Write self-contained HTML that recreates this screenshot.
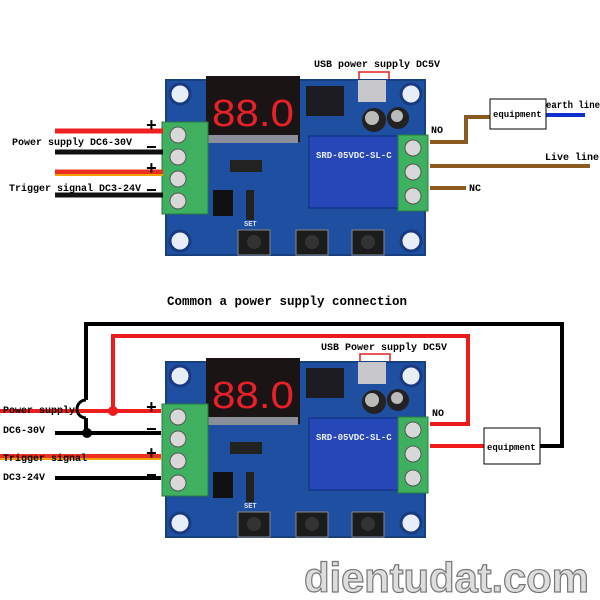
<!DOCTYPE html>
<html><head><style>
html,body{margin:0;padding:0;background:#fff;}
svg{display:block}
text{font-family:"Liberation Mono",monospace;font-weight:bold;}
</style></head><body>
<svg width="600" height="600" viewBox="0 0 600 600" xmlns="http://www.w3.org/2000/svg">
<defs>
<g id="board">
  <rect x="0" y="0" width="259" height="175" fill="#1f4fa0"/>
  <rect x="0" y="0" width="259" height="175" fill="none" stroke="#16407f" stroke-width="2"/>
  <g fill="#e8eef8" stroke="#1a3a80" stroke-width="3">
    <circle cx="14" cy="14" r="10"/><circle cx="245" cy="14" r="10"/>
    <circle cx="14" cy="161" r="10"/><circle cx="245" cy="161" r="10"/>
  </g>
  <rect x="40" y="-4" width="94" height="66" fill="#1a1414"/>
  <text x="46" y="46" font-size="38" fill="#e8202a" textLength="82" lengthAdjust="spacingAndGlyphs" style="font-family:'Liberation Sans',sans-serif;font-weight:normal">88.0</text>
  <rect x="42" y="55" width="90" height="8" fill="#8a8f9a"/>
  <rect x="140" y="6" width="38" height="30" fill="#1c1c22"/>
  <rect x="192" y="0" width="28" height="22" fill="#c8c8cc"/>
  <circle cx="208" cy="40" r="12" fill="#222"/><circle cx="232" cy="38" r="11" fill="#222"/>
  <circle cx="206" cy="38" r="7" fill="#bbb"/><circle cx="231" cy="36" r="6" fill="#bbb"/>
  <rect x="143" y="56" width="90" height="72" fill="#2547b8" stroke="#0f2d7a"/>
  <text x="150" y="78" font-size="9" fill="#e8eef8" font-weight="normal">SRD-05VDC-SL-C</text>
  <rect x="64" y="80" width="32" height="12" fill="#222"/>
  <rect x="80" y="110" width="8" height="30" fill="#222"/>
  <rect x="47" y="110" width="20" height="26" fill="#111"/>
  <rect x="72" y="150" width="32" height="25" fill="#1c1c1c" stroke="#888"/>
  <rect x="130" y="150" width="32" height="25" fill="#1c1c1c" stroke="#888"/>
  <rect x="186" y="150" width="32" height="25" fill="#1c1c1c" stroke="#888"/>
  <circle cx="88" cy="162" r="7" fill="#333"/><circle cx="146" cy="162" r="7" fill="#333"/><circle cx="202" cy="162" r="7" fill="#333"/>
  <text x="78" y="146" font-size="7" fill="#dde" font-weight="normal">SET</text>
  <rect x="-4" y="42" width="46" height="92" fill="#3fb060" stroke="#2a7a40"/>
  <g fill="#d8d8d8" stroke="#555"><circle cx="12" cy="55" r="8"/><circle cx="12" cy="77" r="8"/><circle cx="12" cy="99" r="8"/><circle cx="12" cy="121" r="8"/></g>
  <rect x="232" y="55" width="30" height="76" fill="#3fb060" stroke="#2a7a40"/>
  <g fill="#d8d8d8" stroke="#555"><circle cx="247" cy="68" r="8"/><circle cx="247" cy="92" r="8"/><circle cx="247" cy="116" r="8"/></g>
</g>
</defs>

<!-- TOP -->
<text x="314" y="67" font-size="10" fill="#000">USB power supply DC5V</text>
<rect x="359" y="72" width="30" height="10" fill="none" stroke="#e02020" stroke-width="1.5"/>
<use href="#board" x="166" y="80"/>
<g stroke-width="5">
<line x1="55" y1="131" x2="163" y2="131" stroke="#ee2020"/>
<line x1="55" y1="152" x2="163" y2="152" stroke="#111"/>
<line x1="55" y1="172" x2="163" y2="172" stroke="#ee3020"/>
<line x1="55" y1="175" x2="163" y2="175" stroke="#f0a000" stroke-width="2"/>
<line x1="55" y1="195" x2="163" y2="195" stroke="#111"/>
</g>
<g font-size="18" font-weight="normal" fill="#000" style="font-family:'Liberation Sans',sans-serif">
<text x="146" y="131">+</text><text x="146" y="153">−</text><text x="146" y="174">+</text><text x="146" y="196">−</text>
</g>
<text x="12" y="145" font-size="10">Power supply DC6-30V</text>
<text x="9" y="191" font-size="10">Trigger signal DC3-24V</text>
<g stroke="#8b5a1e" stroke-width="4" fill="none">
<polyline points="430,142 466,142 466,117 490,117"/>
<line x1="430" y1="166" x2="590" y2="166"/>
<line x1="430" y1="188" x2="466" y2="188"/>
</g>
<line x1="546" y1="115" x2="585" y2="115" stroke="#1030d0" stroke-width="4"/>
<rect x="490" y="99" width="56" height="30" fill="#fff" stroke="#000"/>
<text x="493" y="117" font-size="9">equipment</text>
<text x="546" y="108" font-size="10" textLength="54" lengthAdjust="spacingAndGlyphs">earth line</text>
<text x="545" y="160" font-size="10">Live line</text>
<text x="431" y="133" font-size="10">NO</text>
<text x="469" y="191" font-size="10">NC</text>

<text x="167" y="305" font-size="12.5" font-weight="normal" fill="#000">Common a power supply connection</text>

<!-- BOTTOM -->
<polyline points="86,400 86,324 562,324 562,446 540,446" fill="none" stroke="#000" stroke-width="4"/>
<polyline points="113,411 113,336 468,336 468,424 430,424" fill="none" stroke="#ee1c1c" stroke-width="4"/>
<line x1="430" y1="446" x2="484" y2="446" stroke="#ee1c1c" stroke-width="4"/>
<line x1="0" y1="411" x2="161" y2="411" stroke="#ee1c1c" stroke-width="4"/>
<path d="M86,400 A8,8 0 0 0 86,418" fill="none" stroke="#000" stroke-width="3"/>
<line x1="86" y1="418" x2="86" y2="433" stroke="#000" stroke-width="4"/>
<line x1="55" y1="433" x2="161" y2="433" stroke="#000" stroke-width="4"/>
<circle cx="113" cy="411" r="5" fill="#ee1c1c"/>
<circle cx="87" cy="433" r="5" fill="#000"/>
<line x1="0" y1="456" x2="161" y2="456" stroke="#ee3020" stroke-width="4"/>
<line x1="0" y1="459" x2="161" y2="459" stroke="#f0a000" stroke-width="2"/>
<line x1="55" y1="478" x2="161" y2="478" stroke="#000" stroke-width="4"/>
<text x="321" y="350" font-size="10">USB Power supply DC5V</text>
<rect x="360" y="354" width="30" height="10" fill="none" stroke="#e02020" stroke-width="1.5"/>
<use href="#board" x="166" y="362"/>
<g font-size="18" font-weight="normal" fill="#000" style="font-family:'Liberation Sans',sans-serif">
<text x="146" y="413">+</text><text x="146" y="435">−</text><text x="146" y="459">+</text><text x="146" y="481">−</text>
</g>
<text x="3" y="413" font-size="10">Power supply</text>
<text x="3" y="433" font-size="10">DC6-30V</text>
<text x="3" y="461" font-size="10">Trigger signal</text>
<text x="3" y="480" font-size="10">DC3-24V</text>
<text x="432" y="416" font-size="10">NO</text>
<rect x="484" y="428" width="56" height="36" fill="#fff" stroke="#000"/>
<text x="487" y="450" font-size="9">equipment</text>

<text x="304" y="592" font-size="42" font-weight="bold" fill="#ddd" stroke="#777" stroke-width="1.2" style="font-family:'Liberation Sans',sans-serif" textLength="285">dientudat.com</text>
</svg>
</body></html>
